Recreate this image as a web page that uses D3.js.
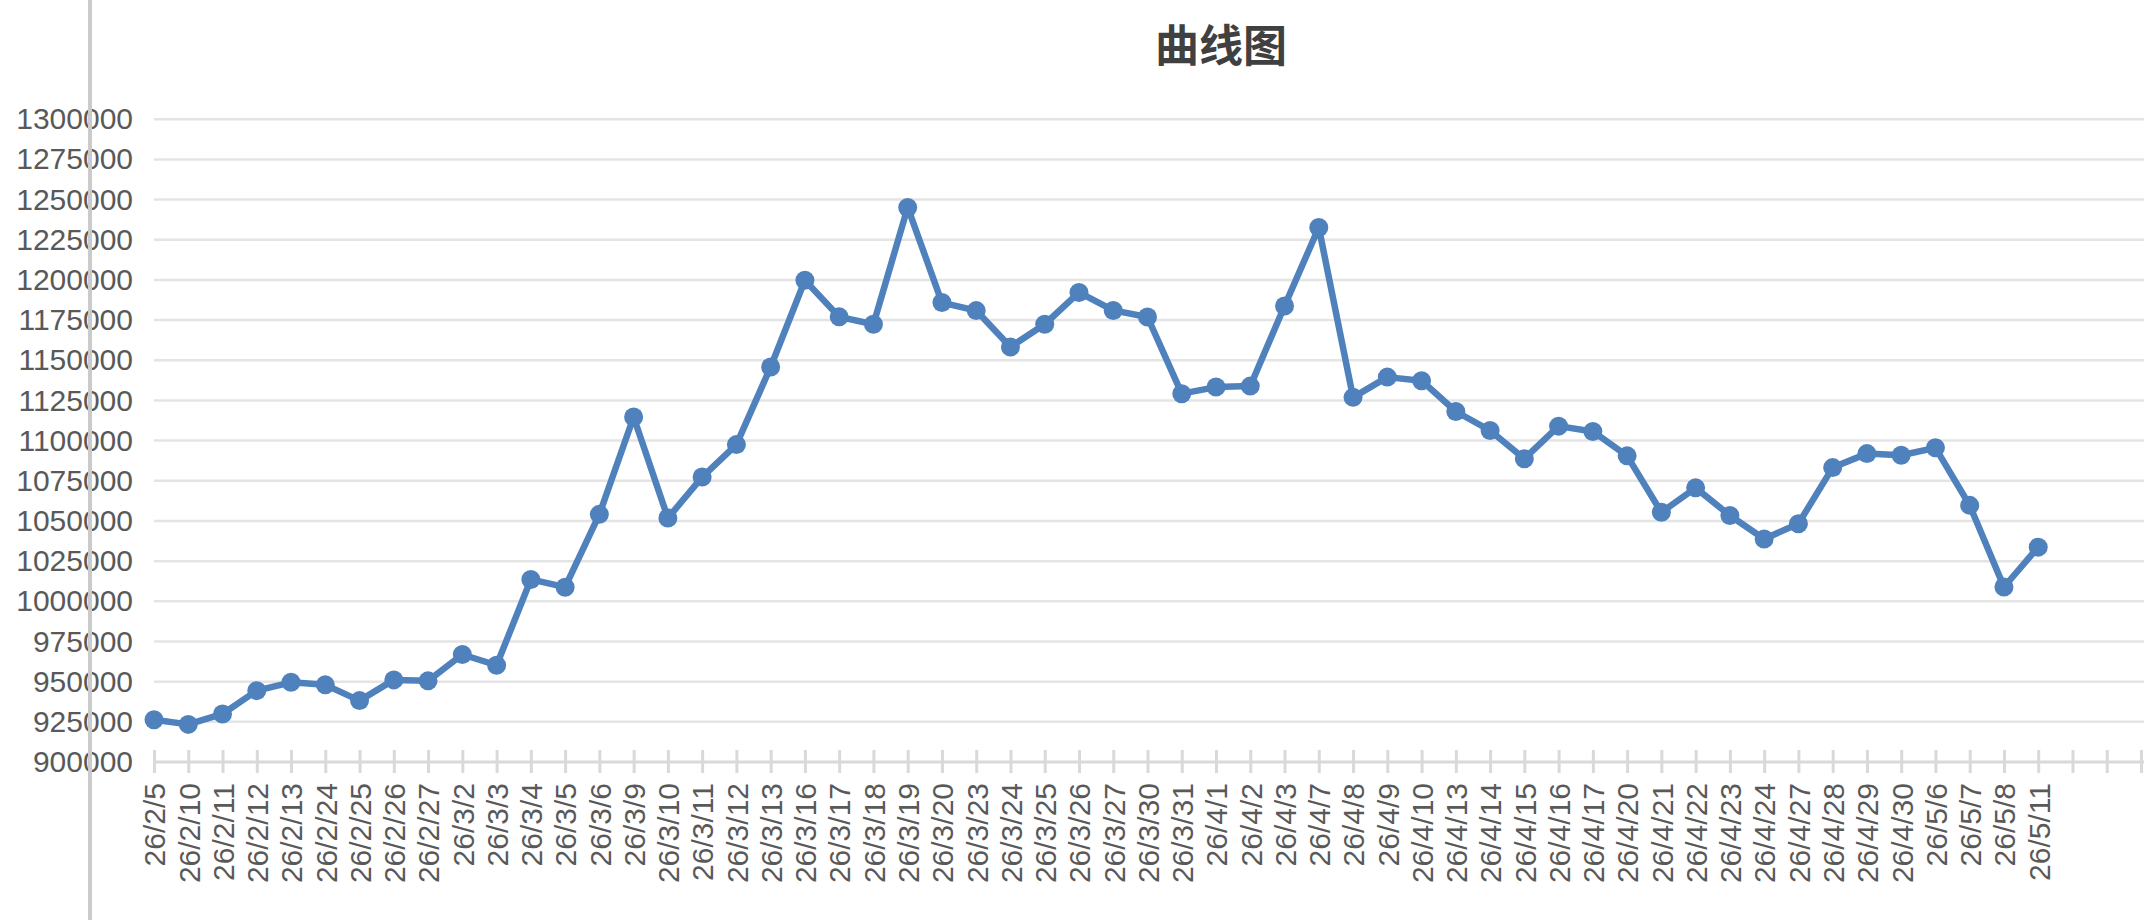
<!DOCTYPE html>
<html>
<head>
<meta charset="utf-8">
<script src="https://cdn.jsdelivr.net/npm/d3@7"></script>
<style>
  body { margin: 0; background: #fff; }
  svg { display: block; }
  .tick text { font-family: "Liberation Sans", Arial, Helvetica, sans-serif; }
</style>
</head>
<body>
<div id="chart"></div>
<script>
var title = '曲线图'

var dates = ['26/2/5', '26/2/10', '26/2/11', '26/2/12', '26/2/13', '26/2/24', '26/2/25', '26/2/26', '26/2/27',
  '26/3/2', '26/3/3', '26/3/4', '26/3/5', '26/3/6', '26/3/9', '26/3/10', '26/3/11', '26/3/12', '26/3/13',
  '26/3/16', '26/3/17', '26/3/18', '26/3/19', '26/3/20', '26/3/23', '26/3/24', '26/3/25', '26/3/26', '26/3/27',
  '26/3/30', '26/3/31', '26/4/1', '26/4/2', '26/4/3', '26/4/7', '26/4/8', '26/4/9', '26/4/10', '26/4/13',
  '26/4/14', '26/4/15', '26/4/16', '26/4/17', '26/4/20', '26/4/21', '26/4/22', '26/4/23', '26/4/24', '26/4/27',
  '26/4/28', '26/4/29', '26/4/30', '26/5/6', '26/5/7', '26/5/8', '26/5/11']

// trailing empty categories on the axis
var blankCats = ['', '', '']

var values = [926300, 923400, 929900, 944400, 949600, 948000, 938200, 951100, 950500,
  966900, 960200, 1013600, 1008800, 1054100, 1114700, 1051800, 1077300, 1097500, 1145800,
  1199800, 1177000, 1172400, 1245100, 1185900, 1180900, 1158300, 1172400, 1192200, 1181000,
  1176900, 1129200, 1133300, 1133900, 1183800, 1232600, 1126900, 1139500, 1137300, 1118100,
  1106300, 1088700, 1109000, 1105700, 1090500, 1055400, 1070600, 1053400, 1038800, 1048300,
  1083200, 1091900, 1090900, 1095500, 1059700, 1008900, 1033700]

var yTicks = [900000, 925000, 950000, 975000, 1000000, 1025000, 1050000, 1075000, 1100000,
  1125000, 1150000, 1175000, 1200000, 1225000, 1250000, 1275000, 1300000]

var W = 2144, H = 920
var plotLeft = 154, plotRight = 2141, plotTop = 119.2, plotBottom = 762
var labelColor = '#595959'
var lineColor = '#4f81bd'

var cats = dates.concat(blankCats)

var svg = d3.select('#chart').append('svg')
  .attr('width', W)
  .attr('height', H)

var x = d3.scalePoint()
  .domain(d3.range(cats.length))
  .range([plotLeft, plotRight])

var y = d3.scaleLinear()
  .domain([yTicks[0], yTicks[yTicks.length - 1]])
  .range([plotBottom, plotTop])

// title
svg.append('text')
  .attr('x', 1221)
  .attr('y', 43)
  .attr('text-anchor', 'middle')
  .attr('dominant-baseline', 'central')
  .style('font-family', '"Noto Sans CJK SC", "Noto Sans", sans-serif')
  .style('font-weight', 'bold')
  .style('font-size', '44px')
  .style('fill', '#404040')
  .text(title)

// horizontal gridlines
svg.append('g')
  .selectAll('line')
  .data(yTicks.slice(1))
  .enter().append('line')
  .attr('x1', plotLeft)
  .attr('x2', W)
  .attr('y1', function (d) { return y(d) })
  .attr('y2', function (d) { return y(d) })
  .style('stroke', '#e4e4e4')
  .style('stroke-width', 2.5)

// y axis labels
var yAxis = svg.append('g')
  .attr('transform', 'translate(133,0)')
  .call(d3.axisLeft(y).tickValues(yTicks).tickSize(0).tickPadding(0).tickFormat(d3.format('d')))
yAxis.select('.domain').remove()
yAxis.selectAll('text')
  .style('font-size', '30px')
  .style('fill', labelColor)

// x axis
var xAxis = svg.append('g')
  .attr('transform', 'translate(0,' + plotBottom + ')')
  .call(d3.axisBottom(x).tickFormat(function (i) { return cats[i] }))
xAxis.select('.domain').remove()
xAxis.append('line')
  .attr('x1', plotLeft)
  .attr('x2', W)
  .style('stroke', '#d9d9d9')
  .style('stroke-width', 3)
xAxis.selectAll('.tick line')
  .attr('y1', -12)
  .attr('y2', 11)
  .style('stroke', '#d9d9d9')
  .style('stroke-width', 3)
xAxis.selectAll('.tick text')
  .attr('transform', 'rotate(-90)')
  .attr('x', -21)
  .attr('y', 0)
  .attr('dy', '0.36em')
  .style('text-anchor', 'end')
  .style('font-size', '30px')
  .style('fill', labelColor)

// series line
var line = d3.line()
  .x(function (d, i) { return x(i) })
  .y(function (d) { return y(d) })

svg.append('path')
  .datum(values)
  .attr('d', line)
  .style('fill', 'none')
  .style('stroke', lineColor)
  .style('stroke-width', 6.5)
  .style('stroke-linejoin', 'round')

svg.append('g')
  .selectAll('circle')
  .data(values)
  .enter().append('circle')
  .attr('cx', function (d, i) { return x(i) })
  .attr('cy', function (d) { return y(d) })
  .attr('r', 9.5)
  .style('fill', lineColor)

// left border line over the labels
svg.append('line')
  .attr('x1', 90)
  .attr('x2', 90)
  .attr('y1', 0)
  .attr('y2', H)
  .style('stroke', '#cbcbcb')
  .style('stroke-width', 4)
</script>
</body>
</html>
